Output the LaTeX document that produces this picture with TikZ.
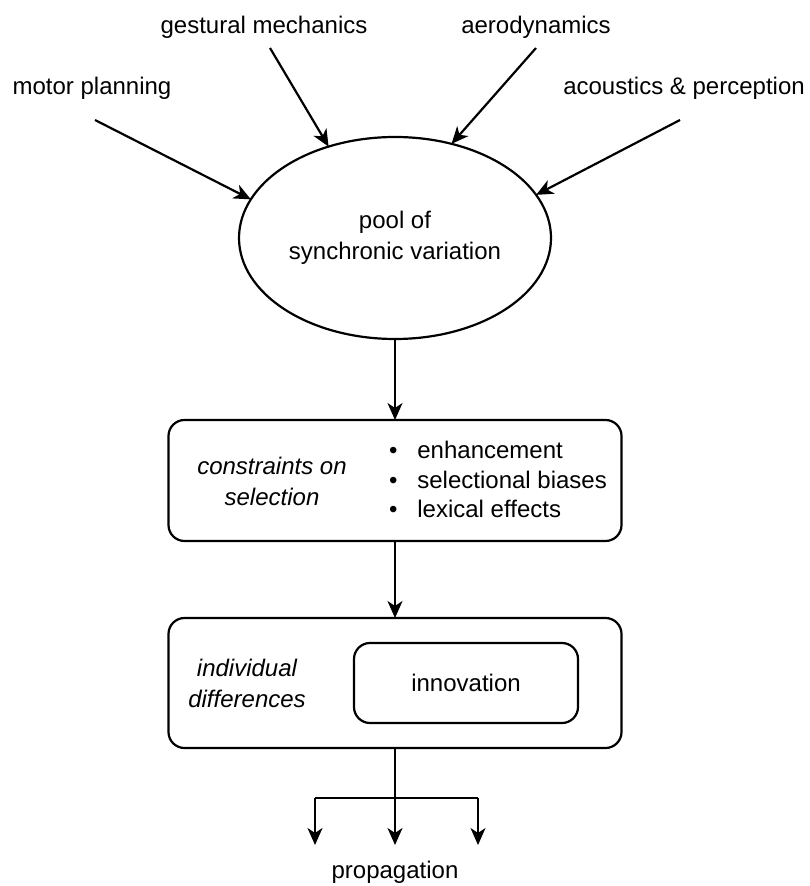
\documentclass[tikz,border=0pt]{standalone}
\usepackage{fontspec}
\setmainfont{Liberation Sans}
\usetikzlibrary{arrows.meta,shapes.geometric}
\begin{document}
\begin{tikzpicture}[x=0.5pt,y=-0.5pt,
  font=\fontsize{12}{15.5}\selectfont,
  every node/.style={inner sep=0pt, outer sep=0pt},
  lbl/.style={align=center},
  conn/.style={line width=1.1pt, -{Stealth[length=8.5pt,width=7.5pt,inset=2.5pt]}},
  plainline/.style={line width=1.1pt},
  rbox/.style={draw, line width=1.1pt, rounded corners=8pt}]
\useasboundingbox (0,0) rectangle (809,886);
% top labels
\node[lbl] (mp) at (92,88) {motor planning};
\node[lbl] (gm) at (264,27) {gestural mechanics};
\node[lbl] (ad) at (536,27) {aerodynamics};
\node[lbl] (ap) at (684,88) {acoustics \& perception};
\coordinate (mps) at (95,120);
\coordinate (gms) at (270,48);
\coordinate (ads) at (536,48);
\coordinate (aps) at (680,120);
% ellipse
\node[draw, ellipse, line width=1.1pt, minimum width=156pt, minimum height=101pt, align=center] (pool) at (395,238) {pool of\\synchronic variation};
\draw[conn] (mps) -- (pool.165);
\draw[conn] (gms) -- (pool.126);
\draw[conn] (ads) -- (pool.59);
\draw[conn] (aps) -- (pool.17);
% box 1
\node[rbox, minimum width=226.5pt, minimum height=60.5pt] (b1) at (395,480.5) {};
\node[lbl, font=\fontsize{12}{15.5}\selectfont\itshape] (cs) at (272,481) {constraints on\\selection};
\node[anchor=west, align=left] (bl) at (389,482)
  {\begin{tabular}{@{}l@{\hspace{10pt}}l@{}}\textbullet & enhancement\\[-0.8pt]\textbullet & selectional biases\\[-0.8pt]\textbullet & lexical effects\end{tabular}};
\draw[conn] (pool.south) -- (b1.north);
% box 2
\node[rbox, minimum width=226.5pt, minimum height=65pt] (b2) at (395,683) {};
\node[lbl, font=\fontsize{12}{15.5}\selectfont\itshape] (id) at (247,683) {individual\\differences};
\node[rbox, minimum width=112pt, minimum height=40pt] (inn) at (466,683) {innovation};
\draw[conn] (b1.south) -- (b2.north);
% fork
\coordinate (fk) at (395,798);
\coordinate (fl) at (315,798);
\coordinate (fr) at (478,798);
\coordinate (p1) at (315,845);
\coordinate (p2) at (395,845);
\coordinate (p3) at (478,845);
\node[lbl] (prop) at (395,872) {propagation};
\draw[plainline] (b2.south) -- (fk);
\draw[plainline] (fl) -- (fr);
\draw[conn] (fl) -- (p1);
\draw[conn] (fk) -- (p2);
\draw[conn] (fr) -- (p3);
\end{tikzpicture}
\end{document}
